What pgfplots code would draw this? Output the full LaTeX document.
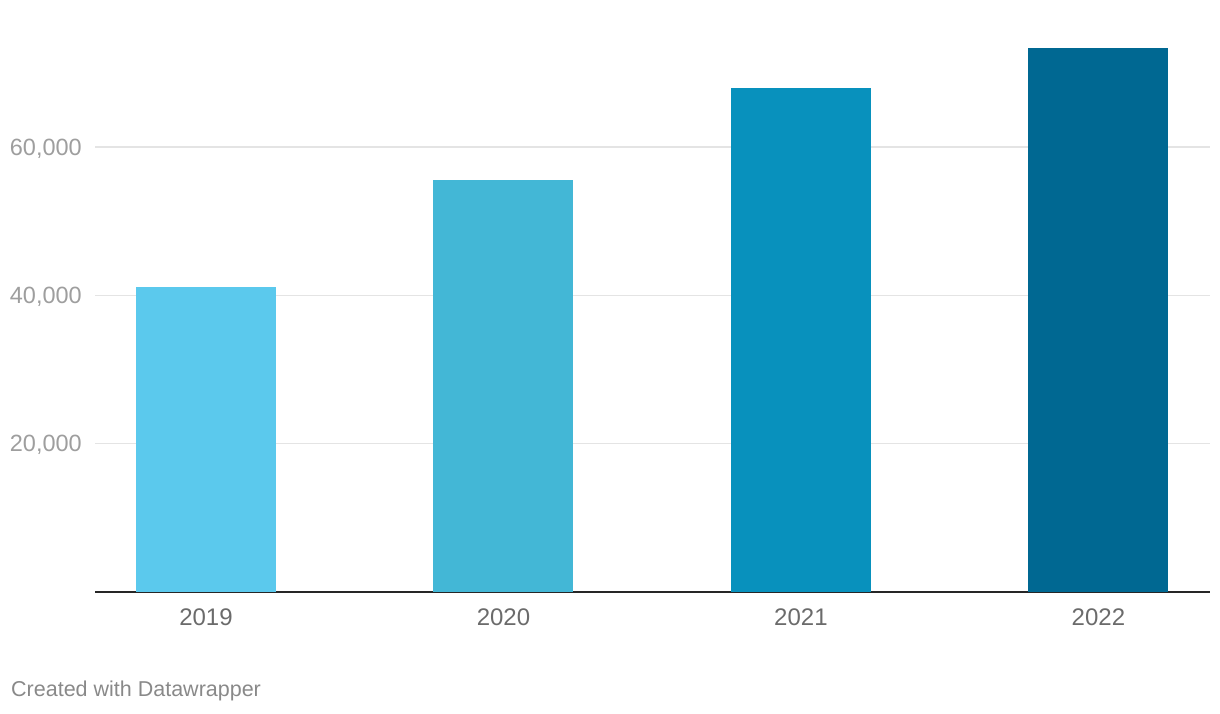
\documentclass[border=0pt]{standalone}
\usepackage{fontspec}
\setmainfont{Liberation Sans}
\usepackage{pgfplots}
\pgfplotsset{compat=1.18}
\definecolor{c19}{HTML}{5BC9ED}
\definecolor{c20}{HTML}{43B7D6}
\definecolor{c21}{HTML}{0891BD}
\definecolor{c22}{HTML}{006892}
\definecolor{ylab}{HTML}{9E9E9E}
\definecolor{xlab}{HTML}{6B6B6B}
\definecolor{grd}{HTML}{E4E4E4}
\begin{document}
\begin{tikzpicture}[x=1pt,y=1pt]
\path (0,0) rectangle (1220,714);
\begin{axis}[
  at={(95pt,122pt)}, anchor=south west,
  scale only axis, width=1115pt, height=544pt,
  xmin=-0.373, xmax=3.375, ymin=0, ymax=73365,
  axis x line*=bottom, axis y line*=left,
  y axis line style={draw=none},
  x axis line style={-, draw=black!85, line width=1.8pt},
  ymajorgrids, grid style={grd, line width=1.5pt},
  major tick length=0pt,
  scaled y ticks=false,
  xtick={0,1,2,3}, xticklabels={2019,2020,2021,2022},
  ytick={20000,40000,60000},
  /pgf/number format/assume math mode=true,
  /pgf/number format/.cd, fixed, 1000 sep={,}, /pgfplots/.cd,
  yticklabel style={font=\fontsize{23.5}{27}\selectfont, text=ylab, anchor=east, inner sep=0pt, xshift=-13pt, yshift=-1.5pt},
  xticklabel style={font=\fontsize{24}{28}\selectfont, text=xlab, anchor=north, inner sep=0pt, yshift=-17pt},
  ybar, bar width=140pt, bar shift=0pt,
  clip=false,
]
\addplot[fill=c19, draw=none] coordinates {(0,41130)};
\addplot[fill=c20, draw=none] coordinates {(1,55560)};
\addplot[fill=c21, draw=none] coordinates {(2,67970)};
\addplot[fill=c22, draw=none] coordinates {(3,73365)};
\end{axis}
\node[anchor=west, inner sep=0pt, text=xlab!80, font=\fontsize{21.5}{25}\selectfont] at (11,23) {Created with Datawrapper};
\end{tikzpicture}
\end{document}
